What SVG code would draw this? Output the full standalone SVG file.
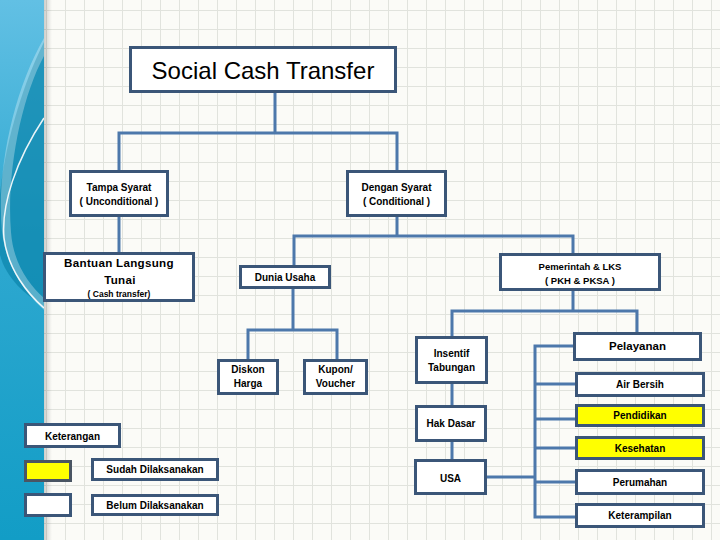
<svg xmlns="http://www.w3.org/2000/svg" width="720" height="540" viewBox="0 0 720 540">
<defs>
  <pattern id="grid" patternUnits="userSpaceOnUse" x="8" y="10" width="19" height="19">
    <rect width="19" height="19" fill="#fbfbf7"/>
    <path d="M0 0.5 H19 M0.5 0 V19" stroke="#e1e3dd" stroke-width="1" fill="none"/>
  </pattern>
  <linearGradient id="bar" x1="0" y1="0" x2="0" y2="1">
    <stop offset="0" stop-color="#62c0e4"/>
    <stop offset="0.45" stop-color="#2ea8d0"/>
    <stop offset="1" stop-color="#129dc6"/>
  </linearGradient>
  <linearGradient id="shade" x1="0" y1="0" x2="1" y2="0">
    <stop offset="0" stop-color="#000" stop-opacity="0.18"/>
    <stop offset="1" stop-color="#000" stop-opacity="0"/>
  </linearGradient>
  <style>
    .box { fill: #ffffff; stroke: #3b5678; stroke-width: 3; }
    .yel { fill: #ffff00; stroke: #3b5678; stroke-width: 3; }
    .conn { fill: none; stroke: #4d78ab; stroke-width: 3; }
    .t { font-family: "Liberation Sans", Arial, sans-serif; font-weight: bold; font-size: 10px; fill: #000; text-anchor: middle; }
    .title { font-family: "Liberation Sans", Arial, sans-serif; font-size: 24px; fill: #000; text-anchor: middle; }
  </style>
</defs>

<rect x="0" y="0" width="720" height="540" fill="url(#grid)"/>

<g id="sidebar">
  <rect x="0" y="0" width="44" height="540" fill="url(#bar)"/>
  <path d="M44,42 C20,90 4,150 0,195 L0,255 C6,278 26,296 44,306 Z" fill="#0b84ab" opacity="0.7"/>
  <path d="M44,38 C14,90 -4,170 2,232 C6,266 24,292 44,310 L44,298 C28,284 13,262 11,232 C6,172 22,96 44,56 Z" fill="#ffffff" opacity="0.3"/>
  <path d="M44,118 C16,160 1,205 4,238 C8,270 28,294 44,308" fill="none" stroke="#ffffff" stroke-width="1.5" opacity="0.9"/>
  <rect x="44" y="0" width="8" height="540" fill="url(#shade)"/>
</g>

<g id="connectors">
  <path class="conn" d="M119,170 V133 H397 V170 M275,93 V133"/>
  <path class="conn" d="M119,217 V252"/>
  <path class="conn" d="M397,217 V236 M294,265 V236 H573 V253"/>
  <path class="conn" d="M293,289 V330 M248,359 V330 H337 V359"/>
  <path class="conn" d="M573,291 V311 M452,336 V311 H637 V332"/>
  <path class="conn" d="M452,384 V405 M452,442 V459"/>
  <path class="conn" d="M487,477 H535 M575,346 H535 V517 H576 M535,384 H576 M535,419 H576 M535,448 H576 M535,482 H576"/>
</g>

<g id="title">
  <rect class="box" x="130.5" y="47.5" width="265" height="44"/>
  <text class="title" x="263" y="79">Social Cash Transfer</text>
</g>

<g id="tampa">
  <rect class="box" x="70.5" y="171.5" width="97" height="44"/>
  <text class="t" x="119" y="191">Tampa Syarat</text>
  <text class="t" x="119" y="205">( Unconditional )</text>
</g>

<g id="dengan">
  <rect class="box" x="347.5" y="171.5" width="98" height="44"/>
  <text class="t" x="396.5" y="191">Dengan Syarat</text>
  <text class="t" x="396.5" y="205">( Conditional )</text>
</g>

<g id="bantuan">
  <rect class="box" x="44.5" y="253.5" width="149" height="47"/>
  <text class="t" x="119" y="267" style="font-size:11.6px;letter-spacing:0.3px">Bantuan Langsung</text>
  <text class="t" x="120" y="284" style="font-size:11.6px;letter-spacing:0.3px">Tunai</text>
  <text class="t" x="119" y="297" style="font-size:8.5px">( Cash transfer)</text>
</g>

<g id="dunia">
  <rect class="box" x="240.5" y="266.5" width="89" height="21"/>
  <text class="t" x="285" y="281">Dunia Usaha</text>
</g>

<g id="pemerintah">
  <rect class="box" x="500.5" y="254.5" width="159" height="35"/>
  <text class="t" x="580" y="270" style="font-size:9.5px">Pemerintah &amp; LKS</text>
  <text class="t" x="580" y="284" style="font-size:9.5px">( PKH &amp; PKSA )</text>
</g>

<g id="diskon">
  <rect class="box" x="218.5" y="360.5" width="59" height="33"/>
  <text class="t" x="248" y="373">Diskon</text>
  <text class="t" x="248" y="387">Harga</text>
</g>

<g id="kupon">
  <rect class="box" x="304.5" y="360.5" width="62" height="33"/>
  <text class="t" x="335.5" y="373">Kupon/</text>
  <text class="t" x="335.5" y="387">Voucher</text>
</g>

<g id="insentif">
  <rect class="box" x="416.5" y="337.5" width="70" height="45"/>
  <text class="t" x="451.5" y="357">Insentif</text>
  <text class="t" x="451.5" y="371">Tabungan</text>
</g>

<g id="hakdasar">
  <rect class="box" x="416.5" y="406.5" width="69" height="34"/>
  <text class="t" x="451" y="427">Hak Dasar</text>
</g>

<g id="usa">
  <rect class="box" x="415.5" y="460.5" width="70" height="33"/>
  <text class="t" x="450.5" y="482">USA</text>
</g>

<g id="pelayanan">
  <rect class="box" x="574.5" y="333.5" width="126" height="26"/>
  <text class="t" x="637.5" y="350" style="font-size:11.5px">Pelayanan</text>
</g>

<g id="airbersih">
  <rect class="box" x="576.5" y="373.5" width="127" height="22"/>
  <text class="t" x="640" y="388">Air Bersih</text>
</g>

<g id="pendidikan">
  <rect class="yel" x="576.5" y="405.5" width="127" height="20"/>
  <text class="t" x="640" y="419">Pendidikan</text>
</g>

<g id="kesehatan">
  <rect class="yel" x="576.5" y="437.5" width="127" height="21"/>
  <text class="t" x="640" y="452">Kesehatan</text>
</g>

<g id="perumahan">
  <rect class="box" x="576.5" y="470.5" width="127" height="23"/>
  <text class="t" x="640" y="486">Perumahan</text>
</g>

<g id="keterampilan">
  <rect class="box" x="576.5" y="504.5" width="127" height="22"/>
  <text class="t" x="640" y="519">Keterampilan</text>
</g>

<g id="legend-title">
  <rect class="box" x="25.5" y="424.5" width="94" height="22"/>
  <text class="t" x="72.5" y="440">Keterangan</text>
</g>

<g id="legend-yellow">
  <rect class="yel" x="25.5" y="461.5" width="45" height="19" style="stroke:#4a5563"/>
</g>

<g id="legend-white">
  <rect class="box" x="25.5" y="494.5" width="45" height="21"/>
</g>

<g id="legend-sudah">
  <rect class="box" x="92.5" y="459.5" width="125" height="20"/>
  <text class="t" x="155" y="473">Sudah Dilaksanakan</text>
</g>

<g id="legend-belum">
  <rect class="box" x="92.5" y="495.5" width="125" height="19"/>
  <text class="t" x="155" y="509">Belum Dilaksanakan</text>
</g>
</svg>
